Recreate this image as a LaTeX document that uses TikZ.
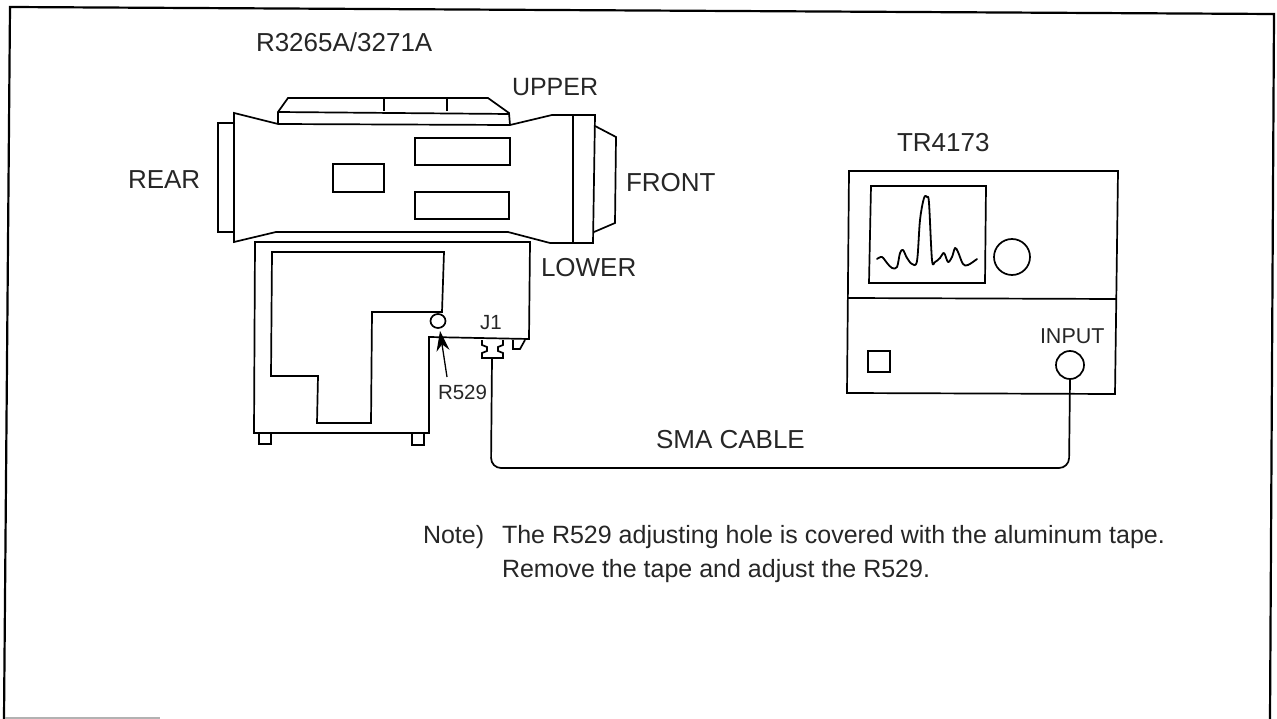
\documentclass[tikz,border=0pt]{standalone}
\usepackage{fontspec}
\setmainfont{Liberation Sans}
\usetikzlibrary{arrows.meta,shapes.geometric}
\tikzset{
  ink/.style={draw=black,line width=1.7pt,line join=miter},
  thin ink/.style={draw=black,line width=1.3pt},
  lab/.style={anchor=base west,inner sep=0pt,outer sep=0pt,text=black!85,font=\fontsize{26}{30}\selectfont},
  small lab/.style={lab,font=\fontsize{20.5}{24}\selectfont},
  note lab/.style={lab,font=\fontsize{25}{30}\selectfont},
  round part/.style={circle,draw=black,line width=1.7pt,inner sep=0pt}
}
\begin{document}
\begin{tikzpicture}[x=1pt,y=-1pt]
\useasboundingbox (0,0) rectangle (1277,719);
% frame
\draw[draw=black,line width=2.2pt] (4,719) -- (10,7) -- (1274,14) -- (1270,719);
\draw[draw=black!30,line width=1.2pt] (5,718) -- (160,718);
% upper unit
\draw[ink] (234,113) -- (278,124) -- (510,125) -- (552,115) -- (595,115) -- (593,243) -- (550,243) -- (508,232) -- (276,232) -- (234,242) -- cycle;
\draw[ink] (278,124) -- (278,112) -- (288,98) -- (488,98) -- (509,113) -- (510,125);
\draw[ink] (278,112) -- (509,114);
\draw[ink] (384,98) -- (384,111);
\draw[ink] (447,98) -- (447,111);
\draw[ink] (573,115) -- (573,243);
\draw[ink] (235,123) -- (218,123) -- (218,232) -- (234,232);
\draw[ink] (595,126) -- (616,137) -- (615,223) -- (594,232);
\draw[ink] (415,138) rectangle (510,165);
\draw[ink] (333,164) rectangle (384,192);
\draw[ink] (415,192) rectangle (509,219);
% lower unit
\draw[ink] (255,242) -- (530,242) -- (529,339) -- (429,337) -- (429,433) -- (254,433) -- cycle;
\draw[ink] (272,252) -- (444,252) -- (442,312) -- (372,312) -- (371,423) -- (317,423) -- (318,376) -- (271,376) -- cycle;
\draw[ink] (259,433) -- (259,444) -- (271,444) -- (271,433);
\draw[ink] (412,433) -- (412,445) -- (424,445) -- (424,433);
\draw[ink] (513,340) -- (513,349) -- (520,349) -- (525,340);
\node[ellipse,draw=black,line width=1.7pt,inner sep=0pt,minimum width=15pt,minimum height=14pt] (hole) at (438,321) {};
\draw[ink,fill=white] (482,340) -- (482,345) -- (487,347) -- (487,351) -- (482,353) -- (482,358) -- (503,358) -- (503,353) -- (498,351) -- (498,347) -- (503,345) -- (503,340);
\coordinate (j1) at (492,358);
\coordinate (tail) at (447,377);
\coordinate (tip) at (440,331);
\draw[thin ink,-{Stealth[length=20pt,width=13pt]}] (tail) -- (tip);
% analyser
\draw[ink] (849,171) -- (1118,171) -- (1115,394) -- (847,393) -- cycle;
\draw[ink] (848,298) -- (1116,299);
\draw[ink] (871,186) -- (986,186) -- (985,283) -- (869,283) -- cycle;
\node[round part,minimum size=36pt] (knob) at (1012,257) {};
\draw[ink] (868,351) rectangle (890,372);
\node[round part,minimum size=28pt] (input) at (1070,365) {};
\draw[draw=black,line width=1.8pt,line cap=round,line join=round] plot[smooth,tension=0.55] coordinates {
(877,259) (882,257) (887,263) (892,268) (897,267) (900,253) (903,250) (907,258) (912,264) (917,261) (920,220) (924,198) (927,197) (929,203) (932,260) (935,262) (940,258) (944,253) (948,262) (952,257) (955,248) (958,252) (963,264) (968,265) (977,259)};
% cable
\draw[draw=black,line width=1.7pt,rounded corners=10pt] (j1) -- (491,468) -- (1069,468) -- (input.south);
% labels
\node[lab] (t1) at (256,52) {R3265A/3271A};
\node[lab,font=\fontsize{25}{30}\selectfont] (t2) at (512,96) {UPPER};
\node[lab] (t3) at (128,189) {REAR};
\node[lab] (t4) at (626,192) {FRONT};
\node[lab] (t5) at (541,277) {LOWER};
\node[lab] (t6) at (897,152) {TR4173};
\node[small lab,font=\fontsize{21.5}{24}\selectfont] (t7) at (1040,344) {INPUT};
\node[small lab] (t8) at (438,399) {R529};
\node[small lab] (t9) at (480,330) {J1};
\node[lab] (t10) at (656,448) {SMA CABLE};
\node[note lab] (t11) at (423,543) {Note)};
\node[note lab] (t12) at (502,543) {The R529 adjusting hole is covered with the aluminum tape.};
\node[note lab] (t13) at (502,577) {Remove the tape and adjust the R529.};
\end{tikzpicture}
\end{document}
